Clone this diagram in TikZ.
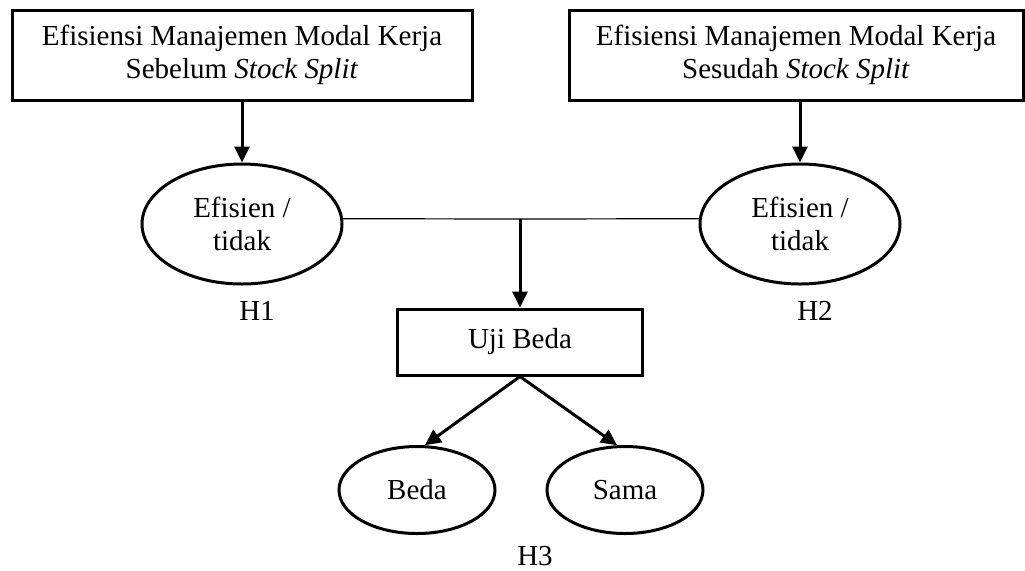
\documentclass[tikz,border=0pt]{standalone}
\usepackage{fontspec}
\setmainfont{Liberation Serif}
\usetikzlibrary{shapes.geometric,arrows.meta}

\begin{document}
\begin{tikzpicture}[x=0.5pt,y=-0.5pt,
        every node/.style={font=\fontsize{14.5}{16.5}\selectfont},
        kotak/.style={draw,line width=1.5pt,align=center,inner sep=0pt},
        elips/.style={draw,ellipse,line width=1.5pt,align=center,inner sep=0pt},
        panah/.style={line width=1.5pt,-{Triangle[length=8pt,width=7.5pt]}}]
    \useasboundingbox (0,0) rectangle (1025,570);
    % kotak atas
    \node[kotak,minimum width=230pt,minimum height=45pt] (sebelum) at (242,55)
        {Efisiensi Manajemen Modal Kerja\\Sebelum \textit{Stock Split}};
    \node[kotak,minimum width=227pt,minimum height=45pt] (sesudah) at (796,55)
        {Efisiensi Manajemen Modal Kerja\\Sesudah \textit{Stock Split}};
    % hasil efisiensi
    \node[elips,minimum width=100pt,minimum height=60pt] (efA) at (242,224) {Efisien /\\tidak};
    \node[elips,minimum width=100pt,minimum height=60pt] (efB) at (800,224) {Efisien /\\tidak};
    \node (hA) at (257,311) {H1};
    \node (hB) at (815,311) {H2};
    % uji beda
    \coordinate (temu) at (520,219);
    \node[kotak,minimum width=122.5pt,minimum height=33pt] (uji) at (520,342) {Uji Beda};
    \node[elips,minimum width=78pt,minimum height=43.5pt] (beda) at (417,490) {Beda};
    \node[elips,minimum width=78pt,minimum height=43.5pt] (sama) at (625,490) {Sama};
    \node (hC) at (535,556) {H3};
    % garis dan panah
    \draw[panah] (sebelum.south) -- (efA.north);
    \draw[panah] (sesudah.south -| efB.north) -- (efB.north);
    \draw[line width=0.6pt] (efA.3) -- (temu) -- (efB.177);
    \draw[panah] (temu) -- (uji.north);
    \draw[panah] (uji.south) -- (beda.80);
    \draw[panah] (uji.south) -- (sama.100);
\end{tikzpicture}
\end{document}
